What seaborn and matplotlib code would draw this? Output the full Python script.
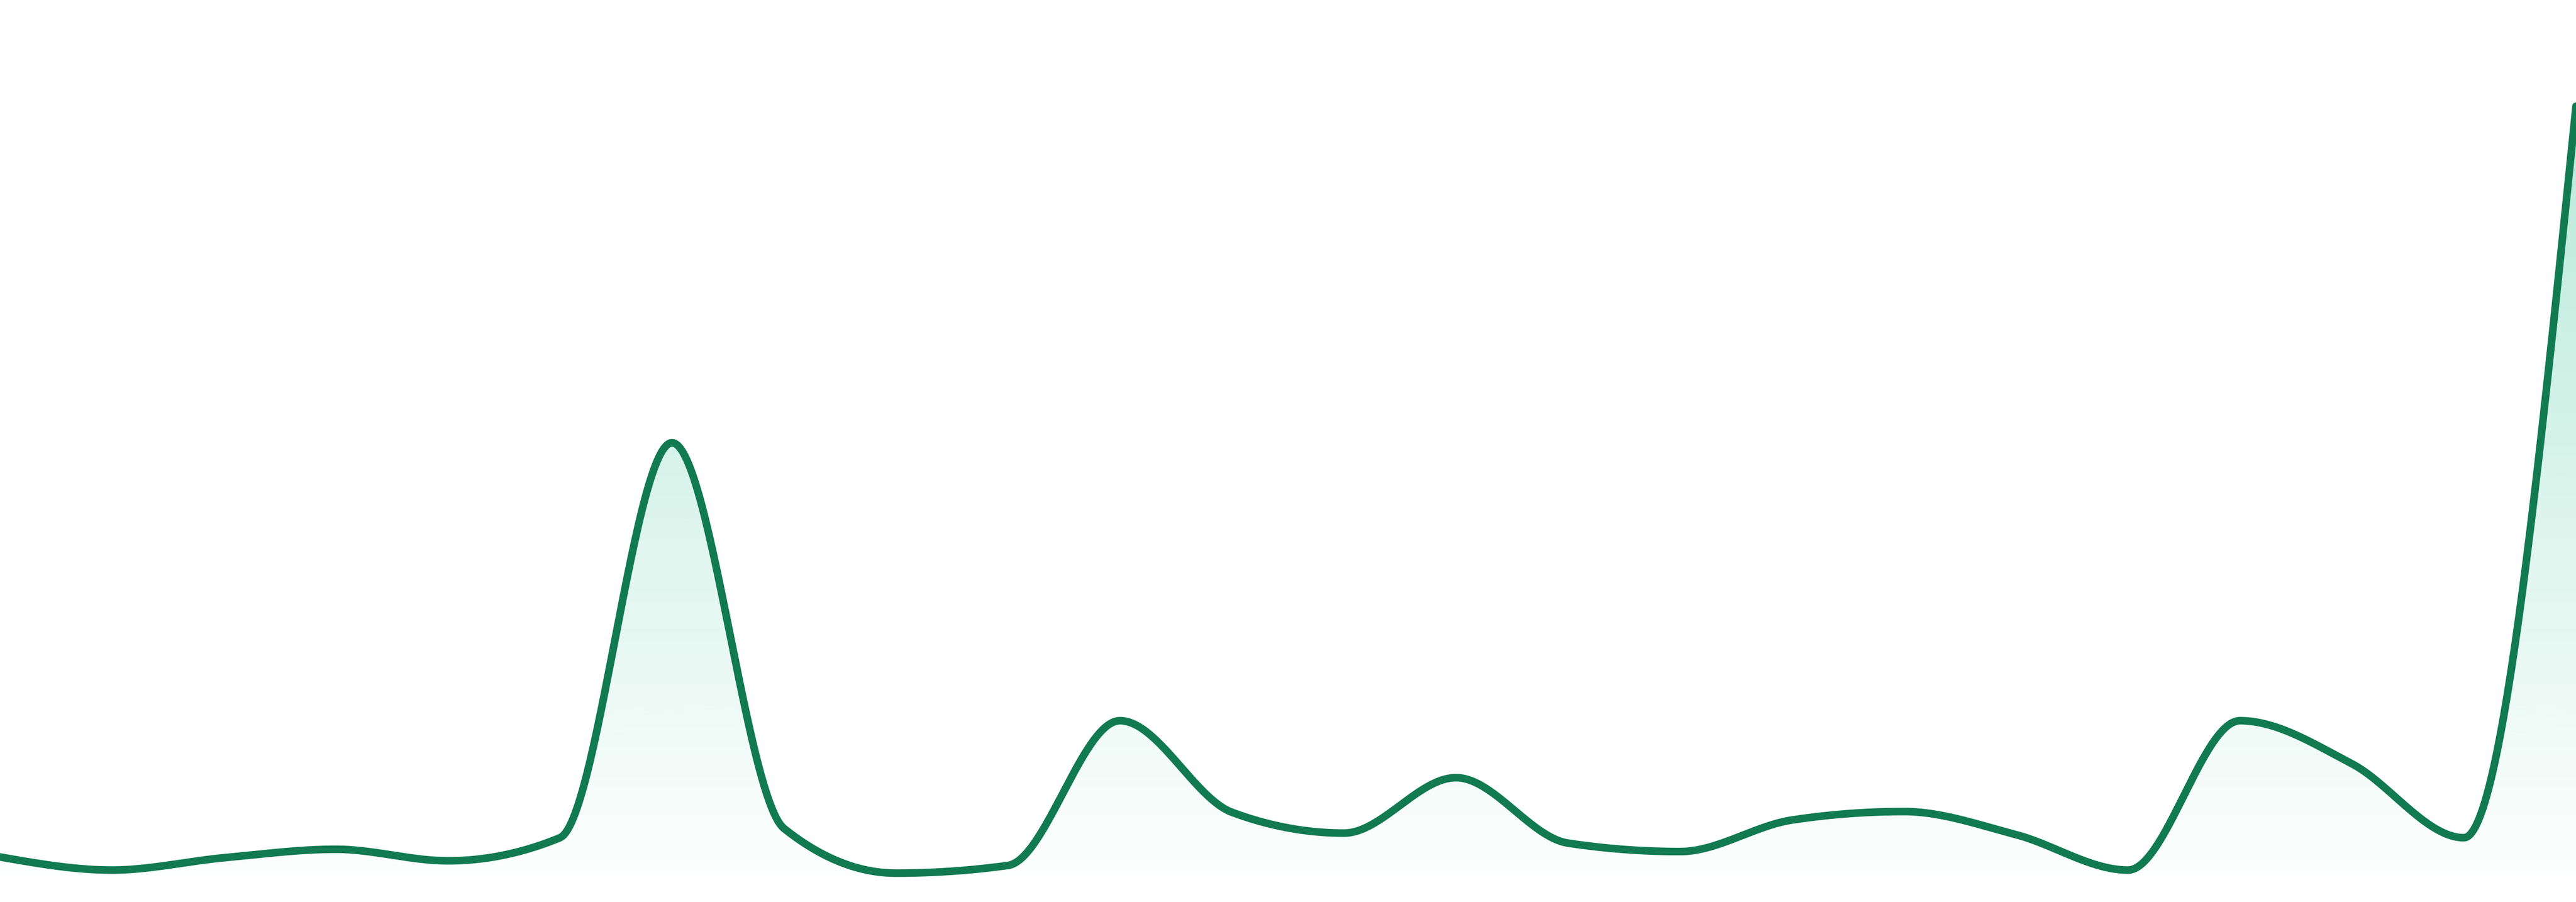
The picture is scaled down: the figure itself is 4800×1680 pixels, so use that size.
import numpy as np
import pandas as pd
import seaborn as sns
import matplotlib.pyplot as plt

sns.set_theme(style="white")

# values (arbitrary units, one point every ~209 px)
values = [2.5, 0.8, 2.4, 3.5, 2.0, 5.0, 56.3, 6.2, 0.4, 1.4, 20.2, 8.3,
          5.6, 12.8, 4.3, 3.2, 7.3, 8.4, 5.4, 0.8, 20.2, 14.6, 5.0, 100.0]
steps = list(range(len(values)))

LINE = "#117a50"
FILL_RGB = (16 / 255, 185 / 255, 129 / 255)
Y_LOW, Y_HIGH = -0.21, 113.8


def monotone_x(x, y, n=60):
    # same tangents as d3.curveMonotoneX
    x = np.asarray(x, float)
    y = np.asarray(y, float)
    h = np.diff(x)
    s = np.diff(y) / h
    t = np.zeros_like(y)
    for i in range(1, len(y) - 1):
        p = (s[i - 1] * h[i] + s[i] * h[i - 1]) / (h[i - 1] + h[i])
        t[i] = (np.sign(s[i - 1]) + np.sign(s[i])) * min(abs(s[i - 1]), abs(s[i]), 0.5 * abs(p))
    t[0] = (3 * s[0] - t[1]) / 2
    t[-1] = (3 * s[-1] - t[-2]) / 2
    xs, ys = [], []
    for i in range(len(h)):
        u = np.linspace(0, 1, n, endpoint=(i == len(h) - 1))
        h00 = 2 * u**3 - 3 * u**2 + 1
        h10 = u**3 - 2 * u**2 + u
        h01 = -2 * u**3 + 3 * u**2
        h11 = u**3 - u**2
        xs.append(x[i] + u * h[i])
        ys.append(h00 * y[i] + h10 * h[i] * t[i] + h01 * y[i + 1] + h11 * h[i] * t[i + 1])
    return np.concatenate(xs), np.concatenate(ys)


cx, cy = monotone_x(steps, values)
curve = pd.DataFrame({"step": cx, "value": cy})

fig = plt.figure(figsize=(16, 5.6), dpi=300)
ax = fig.add_axes([0, 45 / 1680, 1, 1635 / 1680])

# gradient area under the curve
area = ax.fill_between(curve["step"], curve["value"], Y_LOW, facecolor="none", edgecolor="none")
grad = np.zeros((256, 1, 4))
grad[:, 0, :3] = FILL_RGB
grad[:, 0, 3] = np.linspace(0.34, 0.01, 256)
im = ax.imshow(grad, extent=[steps[0], steps[-1], Y_LOW, Y_HIGH], origin="upper",
               aspect="auto", zorder=1, interpolation="bicubic")
im.set_clip_path(area.get_paths()[0], transform=ax.transData)

sns.lineplot(data=curve, x="step", y="value", color=LINE, linewidth=3.4,
             sort=False, estimator=None, ax=ax, zorder=3,
             solid_capstyle="round", solid_joinstyle="round")

ax.set_xlim(steps[0], steps[-1])
ax.set_ylim(Y_LOW, Y_HIGH)
ax.axis("off")

fig.savefig("out.png", dpi=300, facecolor="white")
